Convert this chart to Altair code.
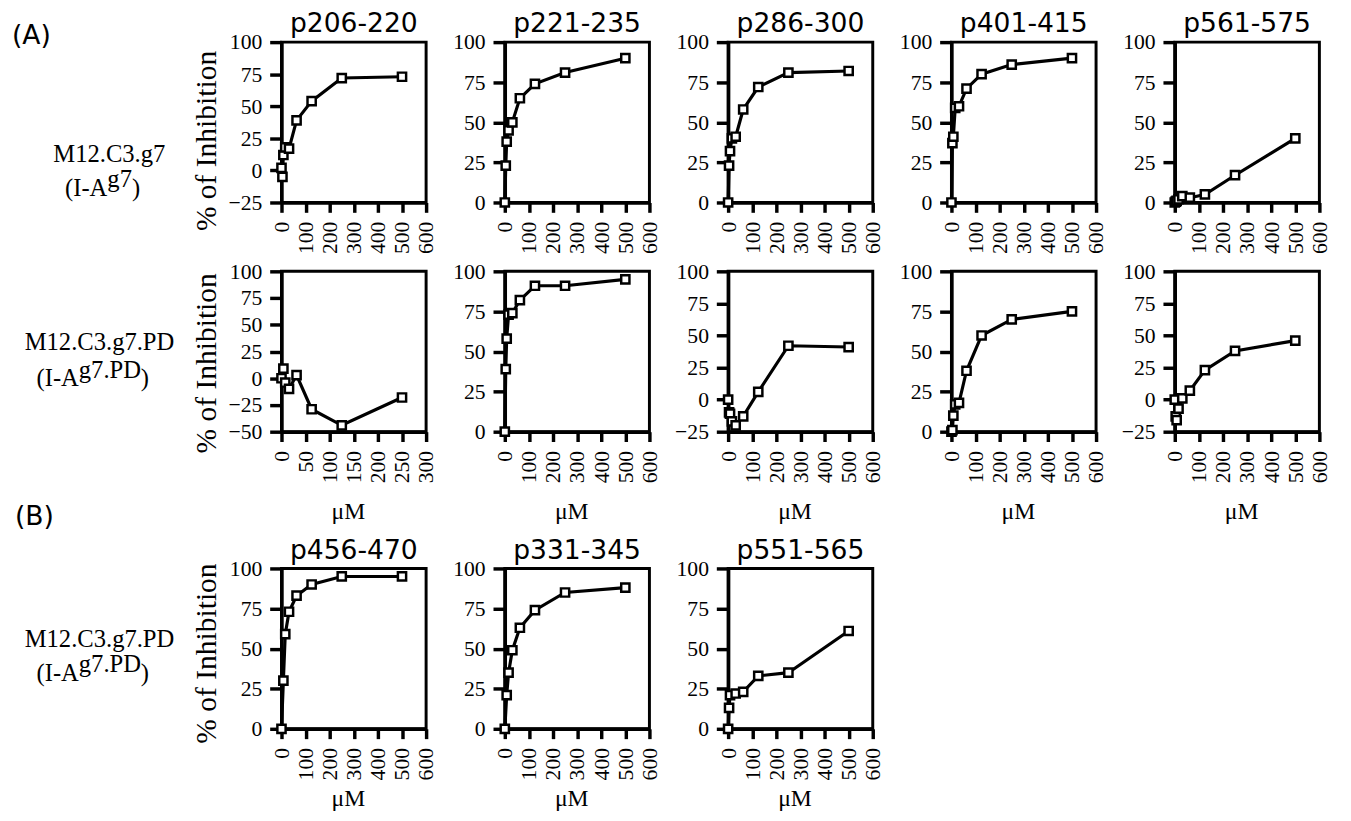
import altair as alt
import pandas as pd

# ---------------- data ----------------
CONC9 = [0, 3.9, 7.8, 15.6, 31.25, 62.5, 125, 250, 500]
CONC8 = [0, 7.8, 15.6, 31.25, 62.5, 125, 250, 500]
CONC_B1 = [0, 3.9, 7.8, 15.6, 31.25, 62.5, 125, 250]
CONC_C3 = [0, 3.9, 7.8, 31.25, 62.5, 125, 250, 500]

a1_y = [2, -5, 12, 18, 17, 39, 54, 72, 73]
a2_y = [0, 23, 38, 45, 50, 65, 74, 81, 90]
a3_y = [0, 23, 32, 40, 41, 58, 72, 81, 82]
a4_y = [0, 37, 41, 59, 60, 71, 80, 86, 90]
a5_y = [0, 0.5, 1, 2, 4, 3, 5, 17, 40]

b1_y = [0, 9, -4, -10, 3, -29, -44, -18]
b2_y = [0, 39, 58, 73, 74, 82, 91, 91, 95]
b3_y = [0, -10, -11, -17, -20, -13, 6, 42, 41]
b4_y = [0, 1, 10, 17, 18, 38, 60, 70, 75]
b5_y = [0, -13, -16, -7, 1, 7, 23, 38, 46]

c1_y = [0, 30, 59, 73, 83, 90, 95, 95]
c2_y = [0, 21, 35, 49, 63, 74, 85, 88]
c3_y = [0, 13, 21, 22, 23, 33, 35, 61]

titles_row1 = ["p206-220", "p221-235", "p286-300", "p401-415", "p561-575"]
titles_row3 = ["p456-470", "p331-345", "p551-565"]
section_labels = ["(A)", "(B)"]
cell_g7 = ["M12.C3.g7", "(I-A", "g7", ")"]
cell_pd = ["M12.C3.g7.PD", "(I-A", "g7.PD", ")"]
y_title = "% of Inhibition"
x_title = "\u03bcM"

# ---------------- layout constants ----------------
W, H = 147, 163
L_FIRST, L_OTHER, R_ALL = 276, 54, 22.5
SERIF = "Liberation Serif"
SANS = "DejaVu Sans"


def text_layer(s, px, py, size, font=SERIF, align="left"):
    return alt.Chart(pd.DataFrame({"t": [s]})).mark_text(
        align=align, baseline="alphabetic", font=font, fontSize=size, color="black"
    ).encode(x=alt.value(px), y=alt.value(py), text="t:N")


def panel(xs, ys, xmax, xstep, ymin, col, top, bottom, title=None,
          ytitle_y=None, xtitle_y=None, extras=()):
    df = pd.DataFrame({"x": xs, "y": ys})
    xaxis = alt.Axis(values=list(range(0, xmax + 1, xstep)),
                     title=x_title if xtitle_y is not None else None,
                     **({"titleY": xtitle_y, "titleX": W / 2 - 6, "titleBaseline": "alphabetic",
                         "titleFont": SERIF, "titleFontSize": 24, "titleAlign": "center"}
                        if xtitle_y is not None else {}))
    yaxis = alt.Axis(values=list(range(ymin, 101, 25)),
                     title=y_title if ytitle_y is not None else None,
                     **({"titleX": -67, "titleY": ytitle_y, "titleBaseline": "alphabetic",
                         "titleAngle": 270, "titleAlign": "center",
                         "titleFont": SERIF, "titleFontSize": 30}
                        if ytitle_y is not None else {}))
    xe = alt.X("x:Q", scale=alt.Scale(domain=[0, xmax], nice=False, zero=False), axis=xaxis)
    ye = alt.Y("y:Q", scale=alt.Scale(domain=[ymin, 100], nice=False, zero=False), axis=yaxis)
    base = alt.Chart(df)
    line = base.mark_line(color="black", strokeWidth=3.2).encode(x=xe, y=ye)
    pts = base.mark_point(shape="square", size=70, filled=True, fill="white",
                          stroke="black", strokeWidth=2.5, opacity=1).encode(x=xe, y=ye)
    left = L_FIRST if col == 0 else L_OTHER
    box = alt.Chart(pd.DataFrame({"k": [0]})).mark_rect(opacity=0).encode(
        x=alt.value(-left), x2=alt.value(W + R_ALL), y=alt.value(-top), y2=alt.value(H + bottom))
    layers = [box, line, pts]
    if title:
        layers.append(text_layer(title, W / 2, -10, 27, font=SANS, align="center"))
    layers.extend(extras)
    return alt.layer(*layers).properties(width=W, height=H)


def cell_labels(lbl, main_x, main_y, paren_x, paren_y, sup_w):
    return [
        text_layer(lbl[0], main_x, main_y, 25, align="center"),
        text_layer(lbl[1], paren_x, paren_y, 25, align="right"),
        text_layer(lbl[2], paren_x, paren_y - 9, 25, align="left"),
        text_layer(lbl[3], paren_x + sup_w, paren_y, 25, align="left"),
    ]


# ---------------- row 1 ----------------
T1, B1 = 20, 55
row1_extras = [text_layer(section_labels[0], -274, 2, 27, font=SANS)] + \
    cell_labels(cell_g7, -175, 122, -177, 156, 25)
row1 = [
    panel(CONC9, a1_y, 600, 100, -25, 0, T1, B1, titles_row1[0], ytitle_y=100, extras=row1_extras),
    panel(CONC9, a2_y, 600, 100, 0, 1, T1, B1, titles_row1[1]),
    panel(CONC9, a3_y, 600, 100, 0, 2, T1, B1, titles_row1[2]),
    panel(CONC9, a4_y, 600, 100, 0, 3, T1, B1, titles_row1[3]),
    panel(CONC9, a5_y, 600, 100, 0, 4, T1, B1, titles_row1[4]),
]

# ---------------- row 2 ----------------
T2, B2 = 11, 100
XT2 = 88
row2_extras = cell_labels(cell_pd, -185, 80, -206, 117, 63) + \
    [text_layer(section_labels[1], -271, 258, 27, font=SANS)]
row2 = [
    panel(CONC_B1, b1_y, 300, 50, -50, 0, T2, B2, ytitle_y=93, xtitle_y=XT2, extras=row2_extras),
    panel(CONC9, b2_y, 600, 100, 0, 1, T2, B2, xtitle_y=XT2),
    panel(CONC9, b3_y, 600, 100, -25, 2, T2, B2, xtitle_y=XT2),
    panel(CONC9, b4_y, 600, 100, 0, 3, T2, B2, xtitle_y=XT2),
    panel(CONC9, b5_y, 600, 100, -25, 4, T2, B2, xtitle_y=XT2),
]

# ---------------- row 3 ----------------
T3, B3 = 35, 80
XT3 = 78
row3_extras = cell_labels(cell_pd, -185, 80, -206, 114, 63)
row3 = [
    panel(CONC8, c1_y, 600, 100, 0, 0, T3, B3, titles_row3[0], ytitle_y=86, xtitle_y=XT3,
          extras=row3_extras),
    panel(CONC8, c2_y, 600, 100, 0, 1, T3, B3, titles_row3[1], xtitle_y=XT3),
    panel(CONC_C3, c3_y, 600, 100, 0, 2, T3, B3, titles_row3[2], xtitle_y=XT3),
]


def hrow(charts):
    return alt.hconcat(*charts, spacing=0).resolve_scale(x="independent", y="independent")


chart = alt.vconcat(hrow(row1), hrow(row2), hrow(row3), spacing=0).resolve_scale(
    x="independent", y="independent"
).properties(
    padding={"top": -6, "left": 0, "right": 0, "bottom": 0}, background="white"
).configure_view(
    stroke="black", strokeWidth=3
).configure_axis(
    domainColor="black", domainWidth=3.5, tickColor="black", tickWidth=3.5,
    labelFont=SERIF, labelFontSize=22, labelColor="black", grid=False,
    labelFlush=False, labelOverlap=False, titleColor="black", titleFontWeight="normal",
).configure_axisX(
    tickSize=10, labelPadding=9, labelAngle=270
).configure_axisY(
    tickSize=12, labelPadding=8
).configure_concat(spacing=0)

chart.save("out.html", embed_options={"renderer": "svg", "actions": False})
